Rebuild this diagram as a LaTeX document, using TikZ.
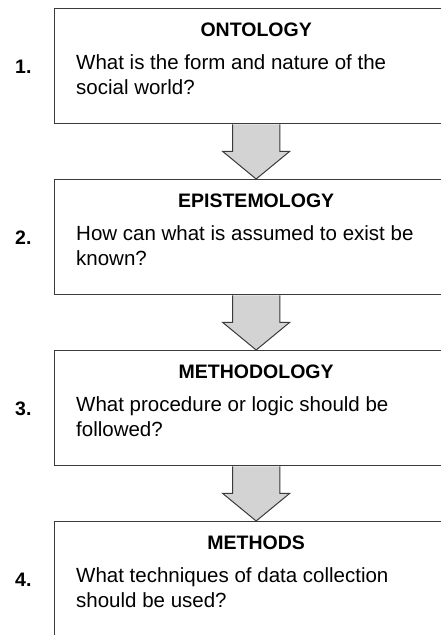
\documentclass[tikz,border=0pt]{standalone}
\usepackage{fontspec}
\setmainfont{Liberation Sans}
\usetikzlibrary{positioning}
\usetikzlibrary{calc}
\definecolor{boxline}{HTML}{3A3A3A}
\definecolor{arrowfill}{HTML}{D3D3D3}

\begin{document}
\begin{tikzpicture}[x=1pt,y=-1pt,
  box/.style={draw=boxline,line width=1.3pt,minimum width=403pt,minimum height=115pt,inner sep=0pt,anchor=north west},
  title/.style={font=\fontsize{19.5}{23}\selectfont\bfseries,inner sep=0pt,anchor=base},
  body/.style={font=\fontsize{20.5}{25}\selectfont,align=left,inner sep=0pt,anchor=base west},
  num/.style={font=\fontsize{19.5}{23}\selectfont\bfseries,inner sep=0pt,anchor=base west},
  blockarrow/.style={draw=boxline,line width=1pt,fill=arrowfill,line join=miter}]
  \useasboundingbox (0,0) rectangle (441,635);
  \clip (0,0) rectangle (441,635);

  \node[box] (b1) at (54,8) {};
  \node[box] (b2) at (54,179) {};
  \node[box] (b3) at (54,350) {};
  \node[box] (b4) at (54,521) {};

  \node[title] (t1) at ($(b1.north)+(0,28.5)$) {ONTOLOGY};
  \node[title] (t2) at ($(b2.north)+(0,28.5)$) {EPISTEMOLOGY};
  \node[title] (t3) at ($(b3.north)+(0,28.5)$) {METHODOLOGY};
  \node[title] (t4) at ($(b4.north)+(0,28.5)$) {METHODS};

  \node[body] (q1) at ($(b1.north west)+(22,86)$) {What is the form and nature of the\\social world?};
  \node[body] (q2) at ($(b2.north west)+(22,86)$) {How can what is assumed to exist be\\known?};
  \node[body] (q3) at ($(b3.north west)+(22,86)$) {What procedure or logic should be\\followed?};
  \node[body] (q4) at ($(b4.north west)+(22,86)$) {What techniques of data collection\\should be used?};

  \node[num] (n1) at ($(b1.north west)+(-39,65)$) {1.};
  \node[num] (n2) at ($(b2.north west)+(-39,65)$) {2.};
  \node[num] (n3) at ($(b3.north west)+(-39,65)$) {3.};
  \node[num] (n4) at ($(b4.north west)+(-39,65)$) {4.};

  \draw[blockarrow] ($(b1.south)+(-23.6,0)$) -- ++(0,27) -- ++(-10,0) -- (b2.north) -- ($(b1.south)+(33.6,27)$) -- ++(-10,0) -- ($(b1.south)+(23.6,0)$);
  \draw[blockarrow] ($(b2.south)+(-23.6,0)$) -- ++(0,27) -- ++(-10,0) -- (b3.north) -- ($(b2.south)+(33.6,27)$) -- ++(-10,0) -- ($(b2.south)+(23.6,0)$);
  \draw[blockarrow] ($(b3.south)+(-23.6,0)$) -- ++(0,27) -- ++(-10,0) -- (b4.north) -- ($(b3.south)+(33.6,27)$) -- ++(-10,0) -- ($(b3.south)+(23.6,0)$);
\end{tikzpicture}
\end{document}
